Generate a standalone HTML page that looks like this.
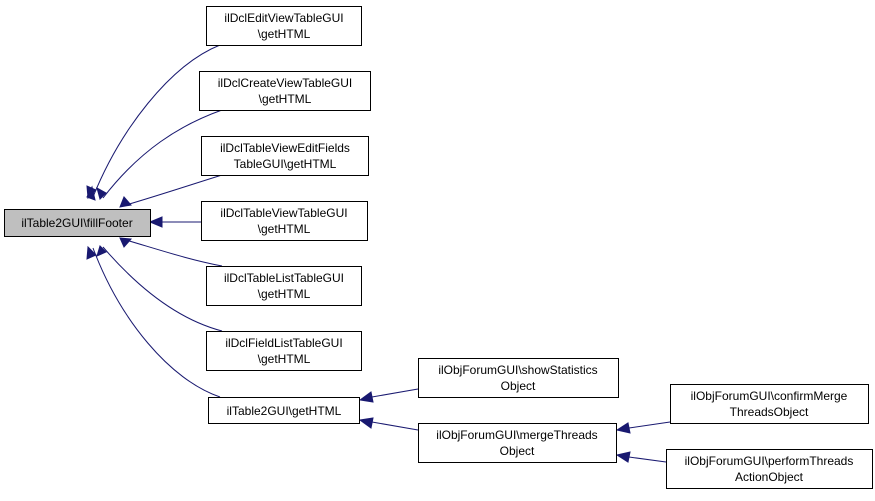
<!DOCTYPE html>
<html><head><meta charset="utf-8"><style>
body{margin:0;background:#fff;width:875px;height:501px;overflow:hidden}
svg{display:block}
text{font-family:"Liberation Sans",sans-serif;font-size:12px;text-anchor:middle;fill:#000}
rect{fill:#fff;stroke:#000;stroke-width:1}
path{fill:none;stroke:#191970;stroke-width:1}
polygon{fill:#191970;stroke:#191970}
</style></head><body>
<svg width="875" height="501" viewBox="0 0 875 501">
<!-- edges -->
<path d="M93,197 C120,130 170,65 220,45"/><polygon points="87,197 95,200 92,187" transform="rotate(0)"/>
<path d="M103,198 C140,150 180,125 222,110"/>
<path d="M126,205 C160,195 190,185 222,175"/>
<path d="M162,222 L201,222"/><polygon points="150,222 162,217 162,227"/>
<path d="M126,240 C160,250 190,260 222,266"/>
<path d="M103,247 C140,290 180,320 222,331"/>
<path d="M93,248 C120,320 170,380 220,397"/>
<path d="M372,397 L418,389"/><polygon points="360,400 371,392 373,402"/>
<path d="M372,422 L418,430"/><polygon points="360,420 373,418 371,428"/>
<path d="M629,428 L670,422"/><polygon points="617,430 628,423 630,433"/>
<path d="M629,457 L666,462"/><polygon points="617,455 630,452 628,462"/>
<!-- arrowheads at fillFooter -->
<polygon points="88,198 87,186 96,190"/>
<polygon points="100,199 97,188 106,193"/>
<polygon points="120,207 124,197 131,205"/>
<polygon points="120,238 131,239 124,247"/>
<polygon points="100,246 106,252 97,256"/>
<polygon points="88,247 96,255 87,259"/>
<!-- nodes -->
<rect x="4.5" y="209.5" width="146" height="27" style="fill:#bfbfbf"/>
<text x="77" y="227">ilTable2GUI\fillFooter</text>
<rect x="206.5" y="6.5" width="155" height="39"/><text x="284" y="22">ilDclEditViewTableGUI</text><text x="284" y="38">\getHTML</text>
<rect x="199.5" y="71.5" width="171" height="39"/><text x="285" y="87">ilDclCreateViewTableGUI</text><text x="285" y="103">\getHTML</text>
<rect x="201.5" y="136.5" width="167" height="39"/><text x="285" y="152">ilDclTableViewEditFields</text><text x="285" y="168">TableGUI\getHTML</text>
<rect x="201.5" y="201.5" width="166" height="39"/><text x="284" y="217">ilDclTableViewTableGUI</text><text x="284" y="233">\getHTML</text>
<rect x="206.5" y="266.5" width="155" height="39"/><text x="284" y="282">ilDclTableListTableGUI</text><text x="284" y="298">\getHTML</text>
<rect x="206.5" y="331.5" width="155" height="39"/><text x="284" y="347">ilDclFieldListTableGUI</text><text x="284" y="363">\getHTML</text>
<rect x="208.5" y="397.5" width="151" height="26"/><text x="284" y="415">ilTable2GUI\getHTML</text>
<rect x="418.5" y="358.5" width="200" height="39"/><text x="518" y="374">ilObjForumGUI\showStatistics</text><text x="518" y="390">Object</text>
<rect x="418.5" y="423.5" width="198" height="39"/><text x="517" y="439">ilObjForumGUI\mergeThreads</text><text x="517" y="455">Object</text>
<rect x="670.5" y="384.5" width="198" height="39"/><text x="769" y="400">ilObjForumGUI\confirmMerge</text><text x="769" y="416">ThreadsObject</text>
<rect x="666.5" y="449.5" width="206" height="39"/><text x="769" y="465">ilObjForumGUI\performThreads</text><text x="769" y="481">ActionObject</text>
</svg>
</body></html>
